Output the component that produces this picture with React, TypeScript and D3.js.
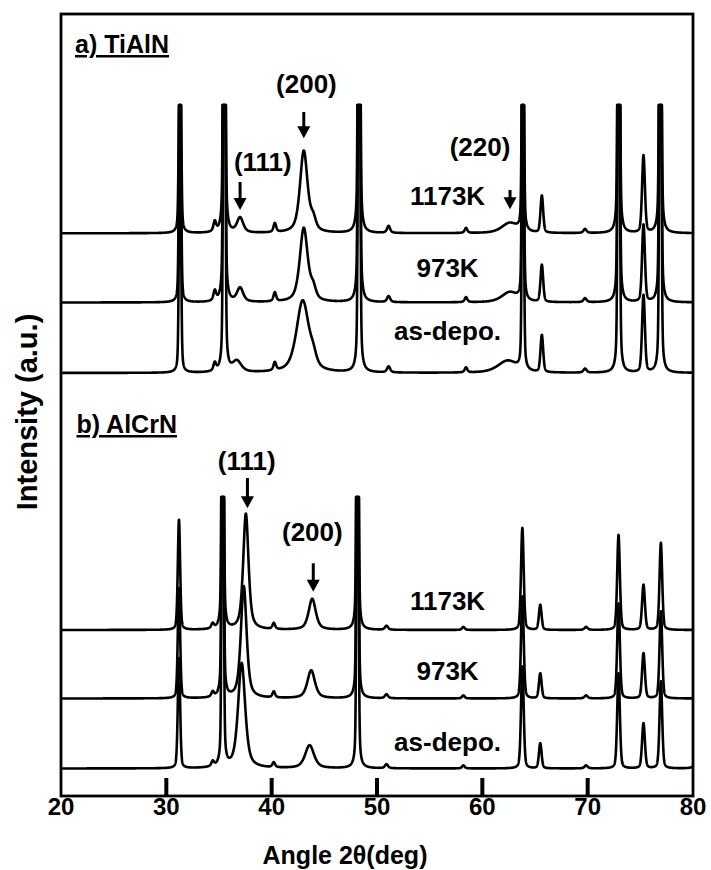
import React from "react";
import * as d3 from "d3";

// ---------- data ----------
const xDomain: [number, number] = [20, 80];
const xTickLabels = [20, 30, 40, 50, 60, 70, 80];
const xTickMarks = [30, 40, 50, 60, 70];
const sampleNames = ["1173K", "973K", "as-depo."];

// Peaks: [2θ (deg), height (a.u.), FWHM (deg)]
// WC substrate reflections (off-scale ones are cut by the panel ceiling)
const tialnSubstratePeaks = [
  [31.3, 320, 0.2], [35.5, 900, 0.18], [48.3, 900, 0.18], [63.85, 450, 0.18],
  [65.65, 37, 0.3], [72.95, 800, 0.18], [75.3, 77, 0.32], [76.9, 800, 0.18],
];
const alcrnSubstratePeaks = [
  [31.2, 110, 0.26], [35.35, 650, 0.18], [48.15, 650, 0.18], [63.8, 102, 0.3],
  [65.5, 25, 0.3], [72.93, 95, 0.3], [75.3, 45, 0.32], [76.95, 87, 0.3],
];

// Film reflections, TiAlN
const tialn1173Peaks = [
  [34.6, 10, 0.3], [37.0, 15, 0.7], [40.3, 9, 0.3], [43.05, 82, 0.85], [43.95, 11, 0.6],
  [51.1, 7, 0.35], [58.45, 5, 0.3], [62.6, 10, 1.8], [69.75, 4, 0.35],
];
const tialn973Peaks = [
  [34.6, 10, 0.3], [37.0, 14, 0.7], [40.3, 9, 0.3], [43.05, 74, 0.9], [43.95, 11, 0.6],
  [51.1, 6, 0.35], [58.45, 5, 0.3], [62.6, 10, 1.8], [69.75, 4, 0.35],
];
const tialnAsDepoPeaks = [
  [34.6, 8, 0.3], [36.7, 11, 1.0], [40.3, 8, 0.3], [42.95, 72, 1.4], [43.95, 9, 0.7],
  [51.1, 6, 0.35], [58.45, 5, 0.3], [62.4, 12, 2.2], [69.75, 4, 0.35],
];
// Film reflections, AlCrN
const alcrn1173Peaks = [
  [34.4, 5, 0.3], [37.55, 116, 0.6], [40.2, 6, 0.3], [43.85, 31, 0.8],
  [50.9, 4, 0.35], [58.2, 3, 0.3], [69.85, 3, 0.35],
];
const alcrn973Peaks = [
  [34.4, 5, 0.3], [37.35, 112, 0.65], [40.2, 6, 0.3], [43.75, 28, 0.85],
  [50.9, 4, 0.35], [58.2, 3, 0.3], [69.85, 3, 0.35],
];
const alcrnAsDepoPeaks = [
  [34.4, 5, 0.3], [37.15, 105, 0.8], [40.2, 5, 0.3], [43.6, 23, 1.0],
  [50.9, 4, 0.35], [58.2, 3, 0.3], [69.85, 3, 0.35], [80.4, 10, 0.5],
];

// Vertical offsets of the stacked patterns (a.u.) and the cut level of each panel
const tialnBaselines = [562.7, 493.5, 423];
const alcrnBaselines = [166, 97.5, 27.5];
const tialnCeiling = 691;
const alcrnCeiling = 299;
const yDomain: [number, number] = [0, 782];

// Peak annotations
const tialnReflections = [
  { label: "(111)", theta: 37.0 },
  { label: "(200)", theta: 43.05 },
  { label: "(220)", theta: 62.63 },
];
const alcrnReflections = [
  { label: "(111)", theta: 37.7 },
  { label: "(200)", theta: 43.95 },
];

// ---------- layout ----------
const W = 711;
const H = 870;
const frame = { left: 61, right: 693, top: 14, bottom: 796 };
const FONT = "'Liberation Sans', Arial, Helvetica, sans-serif";
const STEP = 0.01;

const x = d3.scaleLinear().domain(xDomain).range([frame.left, frame.right]);
const y = d3.scaleLinear().domain(yDomain).range([frame.bottom, frame.top]);

function pv(t: number, c: number, h: number, w: number, eta: number) {
  const d = (t - c) / (w / 2);
  return h * (eta * (1 / (1 + d * d)) + (1 - eta) * Math.exp(-Math.LN2 * d * d));
}

function pattern(substrate: number[][], film: number[][], base: number, ceil: number) {
  const pts: [number, number][] = [];
  const n = Math.round((xDomain[1] - xDomain[0]) / STEP);
  for (let i = 0; i <= n; i++) {
    const t = xDomain[0] + i * STEP;
    let v = base;
    for (const [c, h, w] of substrate) v += pv(t, c, h, w, 0.3);
    for (const [c, h, w] of film) v += pv(t, c, h, w, 0.6);
    pts.push([t, Math.min(v, ceil)]);
  }
  return pts;
}

const line = d3
  .line<[number, number]>()
  .x((d) => x(d[0]))
  .y((d) => y(d[1]));

const tialnFilms = [tialn1173Peaks, tialn973Peaks, tialnAsDepoPeaks];
const alcrnFilms = [alcrn1173Peaks, alcrn973Peaks, alcrnAsDepoPeaks];

function Arrow({ cx, top, tip }: { cx: number; top: number; tip: number }) {
  const head = 12;
  const hw = 6.5;
  return (
    <g>
      <line x1={cx} x2={cx} y1={top} y2={tip - head + 1} stroke="#000" strokeWidth={3} />
      <path d={`M${cx - hw},${tip - head} L${cx + hw},${tip - head} L${cx},${tip} Z`} fill="#000" />
    </g>
  );
}

export default function App() {
  const tialnPaths = tialnFilms.map((f, i) =>
    line(pattern(tialnSubstratePeaks, f, tialnBaselines[i], tialnCeiling))
  );
  const alcrnPaths = alcrnFilms.map((f, i) =>
    line(pattern(alcrnSubstratePeaks, f, alcrnBaselines[i], alcrnCeiling))
  );

  // annotation layout (in intensity units)
  const aLabelY = [625, 703, 640];
  const aArrow = [
    [614, 586],
    [684, 657.7],
    [606, 586.7],
  ];
  const aLabelX = [39.16, 43.3, 59.78];
  const bLabelY = [326, 255];
  const bArrow = [
    [318, 287.7],
    [232.7, 204.3],
  ];
  const bLabelX = [37.63, 43.86];
  const sampleX = 56.7;
  const aSampleY = [591, 519.5, 456];
  const bSampleY = [186, 116, 45];

  const textStyle = { fontFamily: FONT, fontWeight: 700 as const };

  return (
    <svg
      width={W}
      height={H}
      viewBox={`0 0 ${W} ${H}`}
      style={{ position: "absolute", left: 0, top: 0, background: "#fff" }}
    >
      <rect x={0} y={0} width={W} height={H} fill="#fff" />
      {/* traces */}
      <g fill="none" stroke="#000" strokeWidth={2.6} strokeLinejoin="round">
        {tialnPaths.map((d, i) => (
          <path key={"a" + i} d={d || ""} />
        ))}
        {alcrnPaths.map((d, i) => (
          <path key={"b" + i} d={d || ""} />
        ))}
      </g>

      {/* frame */}
      <rect
        x={frame.left}
        y={frame.top}
        width={frame.right - frame.left}
        height={frame.bottom - frame.top}
        fill="none"
        stroke="#000"
        strokeWidth={2.8}
      />
      {/* ticks */}
      {xTickMarks.map((t) => (
        <line key={t} x1={x(t)} x2={x(t)} y1={frame.bottom} y2={frame.bottom - 18} stroke="#000" strokeWidth={4} />
      ))}
      {xTickLabels.map((t) => (
        <text key={t} x={x(t)} y={815} fontSize={24} textAnchor="middle" {...textStyle}>
          {t}
        </text>
      ))}
      <text x={345} y={864} fontSize={25} textAnchor="middle" {...textStyle}>
        Angle 2θ(deg)
      </text>
      <text transform="translate(37,412) rotate(-90)" fontSize={29} textAnchor="middle" {...textStyle}>
        Intensity (a.u.)
      </text>

      {/* panel titles */}
      <text x={75} y={53} fontSize={25} textDecoration="underline" {...textStyle}>
        a) TiAlN
      </text>
      <text x={76.5} y={433} fontSize={25} textDecoration="underline" {...textStyle}>
        b) AlCrN
      </text>

      {/* reflections */}
      {tialnReflections.map((r, i) => (
        <g key={"ra" + i}>
          <text x={x(aLabelX[i])} y={y(aLabelY[i])} fontSize={26} textAnchor="middle" {...textStyle}>
            {r.label}
          </text>
          <Arrow cx={x(r.theta)} top={y(aArrow[i][0])} tip={y(aArrow[i][1])} />
        </g>
      ))}
      {alcrnReflections.map((r, i) => (
        <g key={"rb" + i}>
          <text x={x(bLabelX[i])} y={y(bLabelY[i])} fontSize={26} textAnchor="middle" {...textStyle}>
            {r.label}
          </text>
          <Arrow cx={x(r.theta)} top={y(bArrow[i][0])} tip={y(bArrow[i][1])} />
        </g>
      ))}

      {/* sample labels */}
      {sampleNames.map((s, i) => (
        <text key={"sa" + i} x={x(sampleX)} y={y(aSampleY[i])} fontSize={26} textAnchor="middle" {...textStyle}>
          {s}
        </text>
      ))}
      {sampleNames.map((s, i) => (
        <text key={"sb" + i} x={x(sampleX)} y={y(bSampleY[i])} fontSize={26} textAnchor="middle" {...textStyle}>
          {s}
        </text>
      ))}
    </svg>
  );
}
